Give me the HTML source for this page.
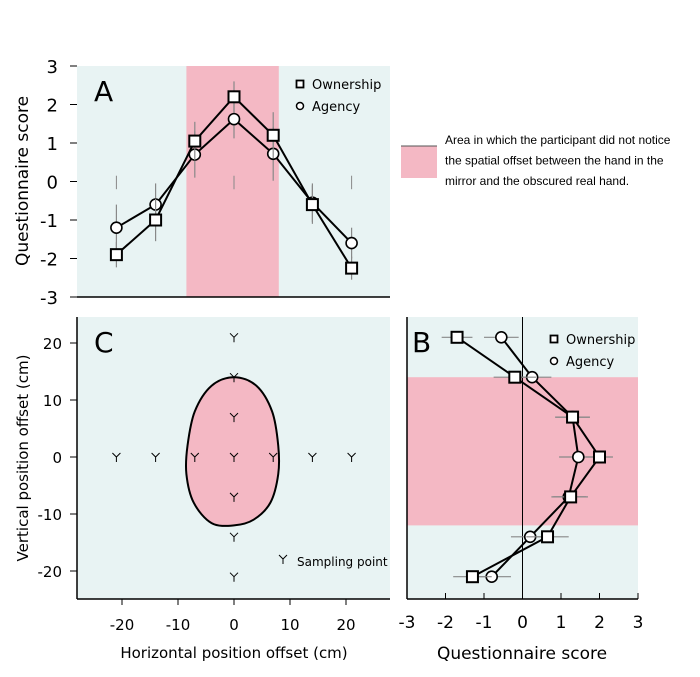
<!DOCTYPE html>
<html><head><meta charset="utf-8"><style>
body{margin:0;background:#fff;}
svg{display:block;font-family:"DejaVu Sans","Liberation Sans",sans-serif;}
</style></head><body>
<svg id="s" width="700" height="677" viewBox="0 0 700 677" xmlns="http://www.w3.org/2000/svg"></svg>
<script>
const offsets=[-21,-14,-7,0,7,14,21];
const aOwn=[-1.9,-1.0,1.05,2.2,1.2,-0.6,-2.25];
const aOwnErr=[0.33,0.55,0.5,0.4,0.6,0.5,0.3];
const aAg=[-1.2,-0.6,0.7,1.62,0.72,-0.55,-1.6];
const aAgErr=[0.6,0.55,0.6,0.5,0.7,0.5,0.4];
const bOwn=[-1.3,0.65,1.25,2.0,1.3,-0.2,-1.7];
const bOwnErr=[0.5,0.55,0.45,0.35,0.45,0.55,0.4];
const bAg=[-0.8,0.2,1.2,1.45,1.3,0.25,-0.55];
const bAgErr=[0.5,0.5,0.45,0.5,0.45,0.5,0.45];
const scoreTicks=[-3,-2,-1,0,1,2,3];
const hTicks=[-20,-10,0,10,20];
const vTicks=[-20,-10,0,10,20];
const pinkH=[-8.5,8];
const pinkV=[-12,14];
const blob=[[0,14],[4,12.5],[6.8,8],[7.9,2],[7.9,-3],[6.5,-8],[3.5,-11],[0,-12],[-4,-11.6],[-7.2,-8],[-8.5,-3],[-8.3,2],[-7,8],[-4,12.5]];

const S=document.getElementById('s');const NS='http://www.w3.org/2000/svg';
function el(t,a,p){const e=document.createElementNS(NS,t);for(const k in a)e.setAttribute(k,a[k]);(p||S).appendChild(e);return e;}
function tx(x,y,s,a,p){const e=el('text',Object.assign({x:x,y:y},a),p);e.textContent=s;return e;}
const BG='#e8f3f3',PK='#f4b8c4';
const xA=v=>234+v*5.6;
const yA=v=>181.5-v*38.5;
const yC=v=>457-v*5.7;
const xB=v=>522.5+v*38.5;

function marker(g,x,y,type){
  if(type==='sq'){const m=el('rect',{x:x-5.5,y:y-5.5,width:11,height:11,fill:'#fff',stroke:'#000','stroke-width':2},g);}
  else{const m=el('circle',{cx:x,cy:y,r:5.5,fill:'#fff',stroke:'#000','stroke-width':1.6},g);}
}

// ===== Panel A =====
const gA=el('g',{});
el('rect',{x:77,y:66,width:313,height:231,fill:BG},gA);
const pa=el('rect',{x:xA(pinkH[0]),y:66,width:xA(pinkH[1])-xA(pinkH[0]),height:231,fill:PK},gA);

el('line',{x1:77,y1:297,x2:390,y2:297,stroke:'#000','stroke-width':1.5},gA);
[-21,0,21].forEach(v=>el('line',{x1:xA(v),y1:yA(0.15),x2:xA(v),y2:yA(-0.2),stroke:'#888'},gA));
scoreTicks.forEach(v=>{tx(58,yA(v)+7,String(v),{'font-size':18,'text-anchor':'end'},gA);el('line',{x1:70,y1:yA(v),x2:77,y2:yA(v),stroke:'#000'},gA);});
tx(94,101,'A',{'font-size':28,'font-family':'DejaVu Sans'},gA);
const yt=tx(28,181,'Questionnaire score',{'font-size':17,'text-anchor':'middle',transform:'rotate(-90 28 181)'},gA);

function series(g,xs,ys,errs,type,horiz){
  const pts=xs.map((x,i)=>horiz?[xB(ys[i]),yC(x)]:[xA(x),yA(ys[i])]);
  xs.forEach((x,i)=>{
    if(horiz)el('line',{x1:xB(ys[i]-errs[i]),y1:yC(x),x2:xB(ys[i]+errs[i]),y2:yC(x),stroke:'#888','stroke-width':1.2},g);
    else el('line',{x1:xA(x),y1:yA(ys[i]-errs[i]),x2:xA(x),y2:yA(ys[i]+errs[i]),stroke:'#888','stroke-width':1.2},g);
  });
  const l=el('polyline',{points:pts.map(p=>p.join(',')).join(' '),fill:'none',stroke:'#000','stroke-width':2},g);
  
  pts.forEach(p=>marker(g,p[0],p[1],type));
}
series(gA,offsets,aAg,aAgErr,'ci',false);
series(gA,offsets,aOwn,aOwnErr,'sq',false);
function legend(g,x,y){
  const l1=el('g',{},g);
  el('rect',{x:x-3.5,y:y-3.5,width:7,height:7,fill:'#fff',stroke:'#000','stroke-width':1.8},l1);
  tx(x+12,y+5,'Ownership',{'font-size':13},l1);
  const l2=el('g',{},g);
  el('circle',{cx:x,cy:y+22,r:3.5,fill:'#fff',stroke:'#000','stroke-width':1.5},l2);
  tx(x+12,y+27,'Agency',{'font-size':13},l2);
}
legend(gA,300,84);

// ===== Shared legend =====
const gL=el('g',{});
el('rect',{x:401,y:146,width:36,height:32,fill:PK},gL);
el('line',{x1:401,y1:146,x2:437,y2:146,stroke:'#555'},gL);
['Area in which the participant did not notice','the spatial offset between the hand in the','mirror and the obscured real hand.'].forEach((s,i)=>tx(445,144+i*20.5,s,{'font-size':12,'font-family':'Liberation Sans'},gL));

// ===== Panel C =====
const gC=el('g',{});
el('rect',{x:77,y:317,width:313,height:282,fill:BG},gC);
const bp=el('path',{fill:PK,stroke:'#000','stroke-width':2},gC);

(function(){const P=blob.map(p=>[xA(p[0]),yC(p[1])]);const n=P.length;let d='M'+P[0].join(',');
for(let i=0;i<n;i++){const p0=P[(i-1+n)%n],p1=P[i],p2=P[(i+1)%n],p3=P[(i+2)%n];
d+=' C'+(p1[0]+(p2[0]-p0[0])/6)+','+(p1[1]+(p2[1]-p0[1])/6)+' '+(p2[0]-(p3[0]-p1[0])/6)+','+(p2[1]-(p3[1]-p1[1])/6)+' '+p2[0]+','+p2[1];}
bp.setAttribute('d',d+'Z');})();
el('line',{x1:77,y1:317,x2:77,y2:599,stroke:'#000','stroke-width':1.5},gC);
el('line',{x1:77,y1:599,x2:390,y2:599,stroke:'#000','stroke-width':1.5},gC);
hTicks.forEach(v=>{el('line',{x1:xA(v),y1:599,x2:xA(v),y2:605,stroke:'#000'},gC);tx(xA(v),630,String(v),{'font-size':15,'text-anchor':'middle'},gC);});
vTicks.forEach(v=>{el('line',{x1:70,y1:yC(v),x2:77,y2:yC(v),stroke:'#000'},gC);tx(62,yC(v)+6,String(v),{'font-size':15,'text-anchor':'end'},gC);});
tx(94,352,'C',{'font-size':28},gC);
const xt=tx(234,658,'Horizontal position offset (cm)',{'font-size':15,'text-anchor':'middle'},gC);

const vt=tx(28,458,'Vertical position offset (cm)',{'font-size':15,'text-anchor':'middle',transform:'rotate(-90 28 458)'},gC);

function samp(x,y){const g=el('g',{stroke:'#000','stroke-width':1,fill:'none'},gC);

el('path',{d:`M${x-4},${y-4}L${x},${y}L${x+4},${y-4}M${x},${y}V${y+5}`},g);}
offsets.forEach(v=>{samp(xA(v),yC(0));if(v!==0)samp(xA(0),yC(v));});
samp(283,559);
tx(297,566,'Sampling point',{'font-size':12},gC);

// ===== Panel B =====
const gB=el('g',{});
el('rect',{x:407,y:317,width:231,height:282,fill:BG},gB);
const pb=el('rect',{x:407,y:yC(pinkV[1]),width:231,height:yC(pinkV[0])-yC(pinkV[1]),fill:PK},gB);

el('line',{x1:xB(0),y1:317,x2:xB(0),y2:599,stroke:'#000','stroke-width':1},gB);
el('line',{x1:407,y1:317,x2:407,y2:599,stroke:'#000','stroke-width':1.5},gB);
el('line',{x1:407,y1:599,x2:638,y2:599,stroke:'#000','stroke-width':1.5},gB);
scoreTicks.forEach(v=>{el('line',{x1:xB(v),y1:593,x2:xB(v),y2:599,stroke:'#000'},gB);tx(xB(v),628,String(v),{'font-size':17,'text-anchor':'middle'},gB);});
tx(412,352,'B',{'font-size':28},gB);
series(gB,offsets,bAg,bAgErr,'ci',true);
series(gB,offsets,bOwn,bOwnErr,'sq',true);
legend(gB,554,339);
const bt=tx(522,659,'Questionnaire score',{'font-size':17,'text-anchor':'middle'},gB);

</script>
</body></html>
